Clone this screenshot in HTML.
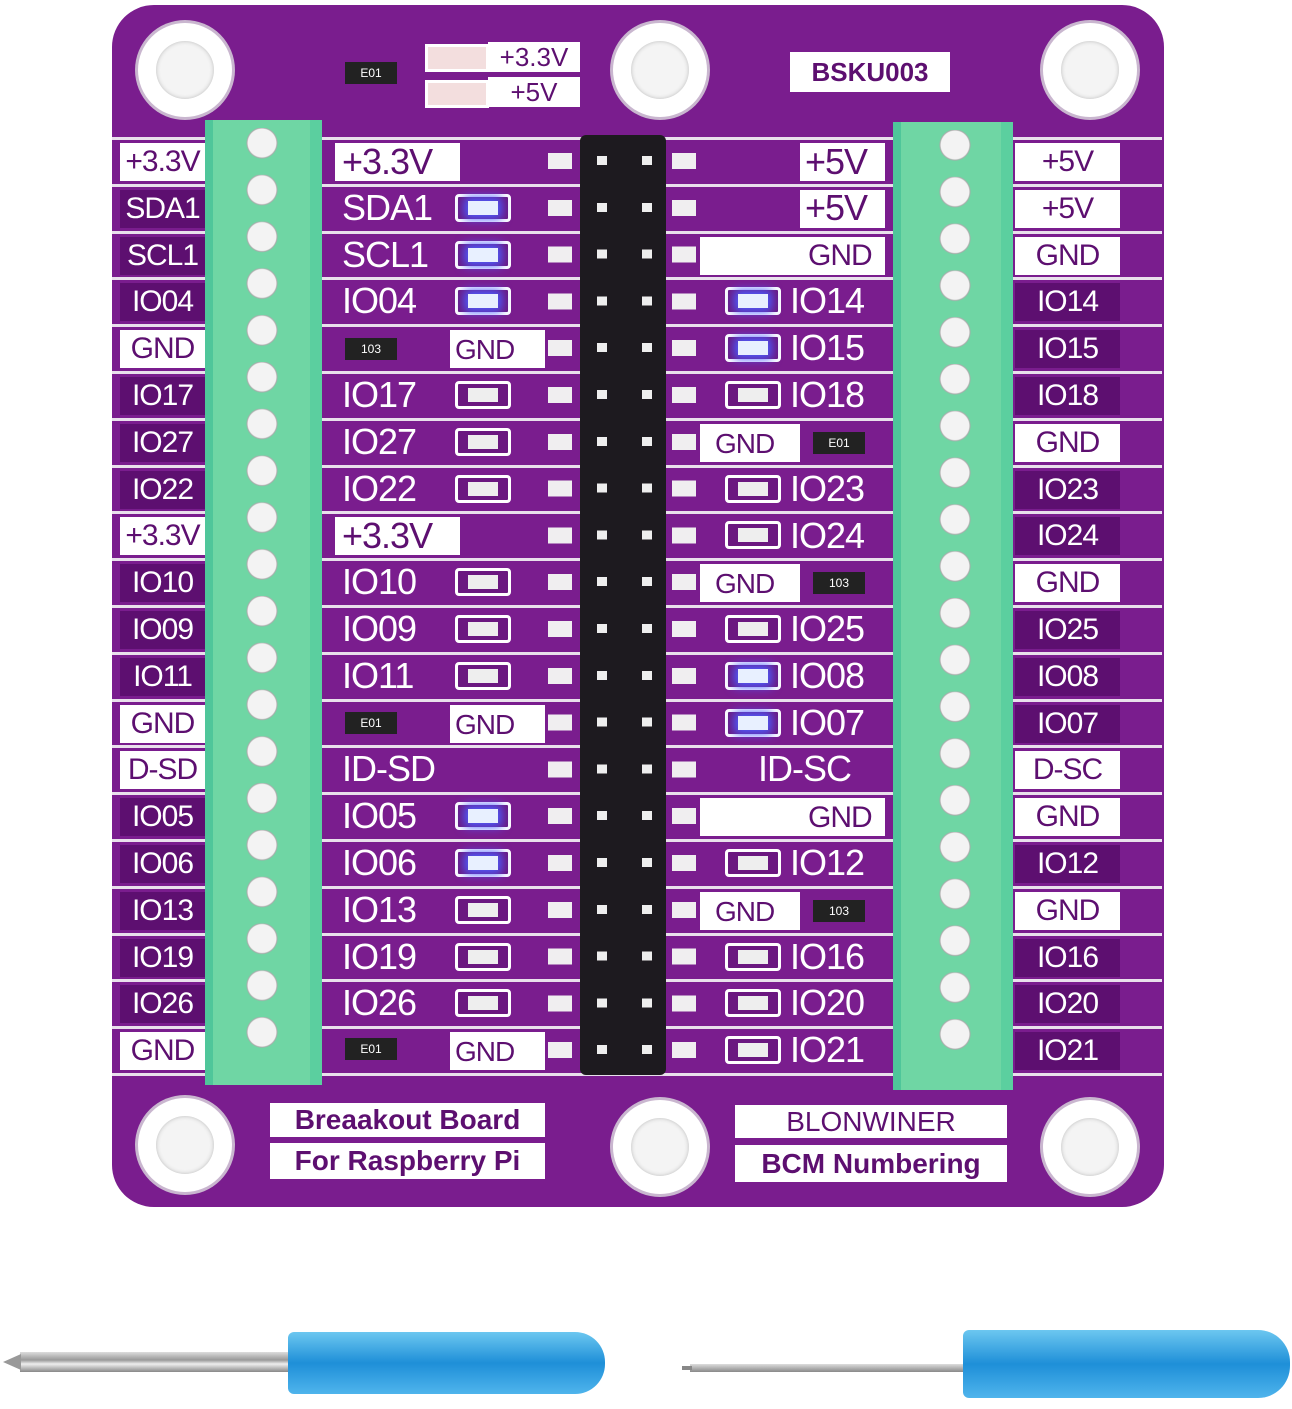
<!DOCTYPE html>
<html><head><meta charset="utf-8"><style>
body{margin:0;width:1292px;height:1409px;background:#fff;position:relative;overflow:hidden;font-family:"Liberation Sans",sans-serif}
.a{position:absolute}
.board{left:112px;top:5px;width:1052px;height:1202px;background:#7a1d8e;border-radius:42px}
.hole{width:94px;height:94px;border-radius:50%;background:#fff;box-shadow:0 0 0 3px #c9b6cf}
.hole::after{content:"";position:absolute;left:18px;top:18px;width:58px;height:58px;border-radius:50%;background:#f4f4f4;box-shadow:inset 0 0 4px #bbb}
.sep{left:112px;width:1050px;height:3px;background:#e9e0ec}
.lab{height:38px;line-height:38px;font-size:30px;color:#fff;background:#5d0f70;text-align:center;letter-spacing:-1px}
.w{background:#fff;color:#5d0f70}
.in{height:40px;line-height:40px;font-size:36px;color:#fff;letter-spacing:-1px;white-space:nowrap}
.tb{background:#6fd6a4;border-left:8px solid #4fc69a;border-right:12px solid #5bcf9f}
.hdr{left:580px;top:135px;width:86px;height:940px;background:#1d1a1f;border-radius:6px}
.led{width:50px;height:22px;border:3px solid #fff;border-radius:4px;background:#6b1880}
.led::after{content:"";position:absolute;left:10px;top:4px;width:30px;height:14px;background:#eee}
.blue::after{background:#e8f0ff;box-shadow:0 0 10px 4px #4d5cff}
.box{background:#fff;color:#5d0f70;font-weight:bold;font-size:28px;text-align:center}
.r{width:52px;height:22px;background:#222;color:#fff;font-size:12px;text-align:center;line-height:22px}
</style></head><body>
<div class="a board"></div>
<div class="a hole" style="left:138px;top:23px"></div>
<div class="a hole" style="left:613px;top:23px"></div>
<div class="a hole" style="left:1043px;top:23px"></div>
<div class="a hole" style="left:138px;top:1098px"></div>
<div class="a hole" style="left:613px;top:1100px"></div>
<div class="a hole" style="left:1043px;top:1100px"></div>

<div class="a r" style="left:345px;top:62px">E01</div>
<div class="a" style="left:425px;top:44px;width:58px;height:22px;border:3px solid #fff;background:#f3dede"></div>
<div class="a" style="left:425px;top:80px;width:58px;height:22px;border:3px solid #fff;background:#f3dede"></div>
<div class="a" style="left:488px;top:42px;width:92px;height:30px;background:#fff;color:#5d0f70;font-size:26px;text-align:center;line-height:30px">+3.3V</div>
<div class="a" style="left:488px;top:77px;width:92px;height:30px;background:#fff;color:#5d0f70;font-size:26px;text-align:center;line-height:30px">+5V</div>
<div class="a box" style="left:790px;top:52px;width:160px;height:40px;line-height:40px;font-size:26px">BSKU003</div>

<div class="a sep" style="top:137px"></div><div class="a sep" style="top:184px"></div><div class="a sep" style="top:231px"></div><div class="a sep" style="top:277px"></div><div class="a sep" style="top:324px"></div><div class="a sep" style="top:371px"></div><div class="a sep" style="top:418px"></div><div class="a sep" style="top:465px"></div><div class="a sep" style="top:511px"></div><div class="a sep" style="top:558px"></div><div class="a sep" style="top:605px"></div><div class="a sep" style="top:652px"></div><div class="a sep" style="top:699px"></div><div class="a sep" style="top:745px"></div><div class="a sep" style="top:792px"></div><div class="a sep" style="top:839px"></div><div class="a sep" style="top:886px"></div><div class="a sep" style="top:933px"></div><div class="a sep" style="top:979px"></div><div class="a sep" style="top:1026px"></div><div class="a sep" style="top:1073px"></div>

<div class="a" style="left:335px;top:143px;width:125px;height:38px;background:#fff"></div>
<div class="a" style="left:335px;top:517px;width:125px;height:38px;background:#fff"></div>
<div class="a" style="left:450px;top:330px;width:95px;height:38px;background:#fff"></div>
<div class="a" style="left:450px;top:705px;width:95px;height:38px;background:#fff"></div>
<div class="a" style="left:450px;top:1032px;width:95px;height:38px;background:#fff"></div>
<div class="a" style="left:800px;top:143px;width:85px;height:38px;background:#fff"></div>
<div class="a" style="left:800px;top:190px;width:85px;height:38px;background:#fff"></div>
<div class="a" style="left:700px;top:237px;width:185px;height:38px;background:#fff"></div>
<div class="a" style="left:700px;top:424px;width:100px;height:38px;background:#fff"></div>
<div class="a" style="left:700px;top:564px;width:100px;height:38px;background:#fff"></div>
<div class="a" style="left:700px;top:798px;width:185px;height:38px;background:#fff"></div>
<div class="a" style="left:700px;top:892px;width:100px;height:38px;background:#fff"></div>

<div class="a lab w" style="left:120px;top:143px;width:85px">+3.3V</div>
<div class="a lab" style="left:120px;top:190px;width:85px">SDA1</div>
<div class="a lab" style="left:120px;top:237px;width:85px">SCL1</div>
<div class="a lab" style="left:120px;top:283px;width:85px">IO04</div>
<div class="a lab w" style="left:120px;top:330px;width:85px">GND</div>
<div class="a lab" style="left:120px;top:377px;width:85px">IO17</div>
<div class="a lab" style="left:120px;top:424px;width:85px">IO27</div>
<div class="a lab" style="left:120px;top:471px;width:85px">IO22</div>
<div class="a lab w" style="left:120px;top:517px;width:85px">+3.3V</div>
<div class="a lab" style="left:120px;top:564px;width:85px">IO10</div>
<div class="a lab" style="left:120px;top:611px;width:85px">IO09</div>
<div class="a lab" style="left:120px;top:658px;width:85px">IO11</div>
<div class="a lab w" style="left:120px;top:705px;width:85px">GND</div>
<div class="a lab w" style="left:120px;top:751px;width:85px">D-SD</div>
<div class="a lab" style="left:120px;top:798px;width:85px">IO05</div>
<div class="a lab" style="left:120px;top:845px;width:85px">IO06</div>
<div class="a lab" style="left:120px;top:892px;width:85px">IO13</div>
<div class="a lab" style="left:120px;top:939px;width:85px">IO19</div>
<div class="a lab" style="left:120px;top:985px;width:85px">IO26</div>
<div class="a lab w" style="left:120px;top:1032px;width:85px">GND</div>

<div class="a lab w" style="left:1015px;top:143px;width:105px">+5V</div>
<div class="a lab w" style="left:1015px;top:190px;width:105px">+5V</div>
<div class="a lab w" style="left:1015px;top:237px;width:105px">GND</div>
<div class="a lab" style="left:1015px;top:283px;width:105px">IO14</div>
<div class="a lab" style="left:1015px;top:330px;width:105px">IO15</div>
<div class="a lab" style="left:1015px;top:377px;width:105px">IO18</div>
<div class="a lab w" style="left:1015px;top:424px;width:105px">GND</div>
<div class="a lab" style="left:1015px;top:471px;width:105px">IO23</div>
<div class="a lab" style="left:1015px;top:517px;width:105px">IO24</div>
<div class="a lab w" style="left:1015px;top:564px;width:105px">GND</div>
<div class="a lab" style="left:1015px;top:611px;width:105px">IO25</div>
<div class="a lab" style="left:1015px;top:658px;width:105px">IO08</div>
<div class="a lab" style="left:1015px;top:705px;width:105px">IO07</div>
<div class="a lab w" style="left:1015px;top:751px;width:105px">D-SC</div>
<div class="a lab w" style="left:1015px;top:798px;width:105px">GND</div>
<div class="a lab" style="left:1015px;top:845px;width:105px">IO12</div>
<div class="a lab w" style="left:1015px;top:892px;width:105px">GND</div>
<div class="a lab" style="left:1015px;top:939px;width:105px">IO16</div>
<div class="a lab" style="left:1015px;top:985px;width:105px">IO20</div>
<div class="a lab" style="left:1015px;top:1032px;width:105px">IO21</div>

<div class="a in" style="left:342px;top:142px;color:#5d0f70">+3.3V</div>
<div class="a in" style="left:342px;top:188px">SDA1</div>
<div class="a in" style="left:342px;top:235px">SCL1</div>
<div class="a in" style="left:342px;top:281px">IO04</div>
<div class="a in" style="left:455px;top:330px;color:#5d0f70;font-size:28px">GND</div>
<div class="a in" style="left:342px;top:375px">IO17</div>
<div class="a in" style="left:342px;top:422px">IO27</div>
<div class="a in" style="left:342px;top:469px">IO22</div>
<div class="a in" style="left:342px;top:516px;color:#5d0f70">+3.3V</div>
<div class="a in" style="left:342px;top:562px">IO10</div>
<div class="a in" style="left:342px;top:609px">IO09</div>
<div class="a in" style="left:342px;top:656px">IO11</div>
<div class="a in" style="left:455px;top:705px;color:#5d0f70;font-size:28px">GND</div>
<div class="a in" style="left:342px;top:749px">ID-SD</div>
<div class="a in" style="left:342px;top:796px">IO05</div>
<div class="a in" style="left:342px;top:843px">IO06</div>
<div class="a in" style="left:342px;top:890px">IO13</div>
<div class="a in" style="left:342px;top:937px">IO19</div>
<div class="a in" style="left:342px;top:983px">IO26</div>
<div class="a in" style="left:455px;top:1032px;color:#5d0f70;font-size:28px">GND</div>

<div class="a in" style="left:805px;top:142px;color:#5d0f70">+5V</div>
<div class="a in" style="left:805px;top:188px;color:#5d0f70">+5V</div>
<div class="a in" style="left:808px;top:236px;color:#5d0f70;font-size:30px">GND</div>
<div class="a in" style="left:790px;top:281px">IO14</div>
<div class="a in" style="left:790px;top:328px">IO15</div>
<div class="a in" style="left:790px;top:375px">IO18</div>
<div class="a in" style="left:715px;top:424px;color:#5d0f70;font-size:28px">GND</div>
<div class="a in" style="left:790px;top:469px">IO23</div>
<div class="a in" style="left:790px;top:516px">IO24</div>
<div class="a in" style="left:715px;top:564px;color:#5d0f70;font-size:28px">GND</div>
<div class="a in" style="left:790px;top:609px">IO25</div>
<div class="a in" style="left:790px;top:656px">IO08</div>
<div class="a in" style="left:790px;top:703px">IO07</div>
<div class="a in" style="left:758px;top:749px">ID-SC</div>
<div class="a in" style="left:808px;top:798px;color:#5d0f70;font-size:30px">GND</div>
<div class="a in" style="left:790px;top:843px">IO12</div>
<div class="a in" style="left:715px;top:892px;color:#5d0f70;font-size:28px">GND</div>
<div class="a in" style="left:790px;top:937px">IO16</div>
<div class="a in" style="left:790px;top:983px">IO20</div>
<div class="a in" style="left:790px;top:1030px">IO21</div>

<div class="a led blue" style="left:455px;top:194px"></div>
<div class="a led blue" style="left:455px;top:241px"></div>
<div class="a led blue" style="left:455px;top:287px"></div>
<div class="a led" style="left:455px;top:381px"></div>
<div class="a led" style="left:455px;top:428px"></div>
<div class="a led" style="left:455px;top:475px"></div>
<div class="a led" style="left:455px;top:568px"></div>
<div class="a led" style="left:455px;top:615px"></div>
<div class="a led" style="left:455px;top:662px"></div>
<div class="a led blue" style="left:455px;top:802px"></div>
<div class="a led blue" style="left:455px;top:849px"></div>
<div class="a led" style="left:455px;top:896px"></div>
<div class="a led" style="left:455px;top:943px"></div>
<div class="a led" style="left:455px;top:989px"></div>
<div class="a led blue" style="left:725px;top:287px"></div>
<div class="a led blue" style="left:725px;top:334px"></div>
<div class="a led" style="left:725px;top:381px"></div>
<div class="a led" style="left:725px;top:475px"></div>
<div class="a led" style="left:725px;top:521px"></div>
<div class="a led" style="left:725px;top:615px"></div>
<div class="a led blue" style="left:725px;top:662px"></div>
<div class="a led blue" style="left:725px;top:709px"></div>
<div class="a led" style="left:725px;top:849px"></div>
<div class="a led" style="left:725px;top:943px"></div>
<div class="a led" style="left:725px;top:989px"></div>
<div class="a led" style="left:725px;top:1036px"></div>

<div class="a r" style="left:345px;top:338px">103</div>
<div class="a r" style="left:345px;top:712px">E01</div>
<div class="a r" style="left:345px;top:1038px">E01</div>
<div class="a r" style="left:813px;top:432px">E01</div>
<div class="a r" style="left:813px;top:572px">103</div>
<div class="a r" style="left:813px;top:900px">103</div>

<div class="a hdr"></div>
<div class="a" style="left:548px;top:135px;width:24px;height:940px;background:repeating-linear-gradient(#0000 0 18px,#f0eef0 18px 34px,#0000 34px 46.8px)"></div>
<div class="a" style="left:672px;top:135px;width:24px;height:940px;background:repeating-linear-gradient(#0000 0 18px,#f0eef0 18px 34px,#0000 34px 46.8px)"></div>
<div class="a" style="left:597px;top:135px;width:10px;height:940px;background:repeating-linear-gradient(#0000 0 21px,#eee 21px 30px,#0000 30px 46.8px)"></div>
<div class="a" style="left:642px;top:135px;width:10px;height:940px;background:repeating-linear-gradient(#0000 0 21px,#eee 21px 30px,#0000 30px 46.8px)"></div>

<div class="a tb" style="left:205px;top:120px;width:97px;height:965px"></div>
<div class="a" style="left:246px;top:128px;width:32px;height:935px;background:radial-gradient(circle 16px at 16px 15px,#f3f3f3 14px,#aaa 15px,#0000 16px) 0 0/32px 46.8px repeat-y"></div>
<div class="a tb" style="left:893px;top:122px;width:100px;height:968px"></div>
<div class="a" style="left:939px;top:130px;width:32px;height:935px;background:radial-gradient(circle 16px at 16px 15px,#f3f3f3 14px,#aaa 15px,#0000 16px) 0 0/32px 46.8px repeat-y"></div>

<div class="a box" style="left:270px;top:1103px;width:275px;height:34px;line-height:34px">Breaakout Board</div>
<div class="a box" style="left:270px;top:1143px;width:275px;height:36px;line-height:36px">For Raspberry Pi</div>
<div class="a box" style="left:735px;top:1105px;width:272px;height:33px;line-height:33px;font-weight:normal">BLONWINER</div>
<div class="a box" style="left:735px;top:1145px;width:272px;height:37px;line-height:37px">BCM Numbering</div>

<div class="a" style="left:20px;top:1352px;width:275px;height:20px;background:linear-gradient(#ddd,#999 40%,#eee 60%,#888)"></div>
<div class="a" style="left:3px;top:1354px;width:0;height:0;border-top:8px solid transparent;border-bottom:8px solid transparent;border-right:18px solid #999"></div>
<div class="a" style="left:288px;top:1332px;width:317px;height:62px;background:linear-gradient(#6cc7f0,#1e8fd8 50%,#4fb4ec);border-radius:6px 30px 30px 6px"></div>
<div class="a" style="left:690px;top:1364px;width:280px;height:8px;background:linear-gradient(#ddd,#888)"></div>
<div class="a" style="left:682px;top:1366px;width:10px;height:4px;background:#888"></div>
<div class="a" style="left:963px;top:1330px;width:327px;height:68px;background:linear-gradient(#6cc7f0,#1e8fd8 50%,#4fb4ec);border-radius:6px 32px 32px 6px"></div>
</body></html>
